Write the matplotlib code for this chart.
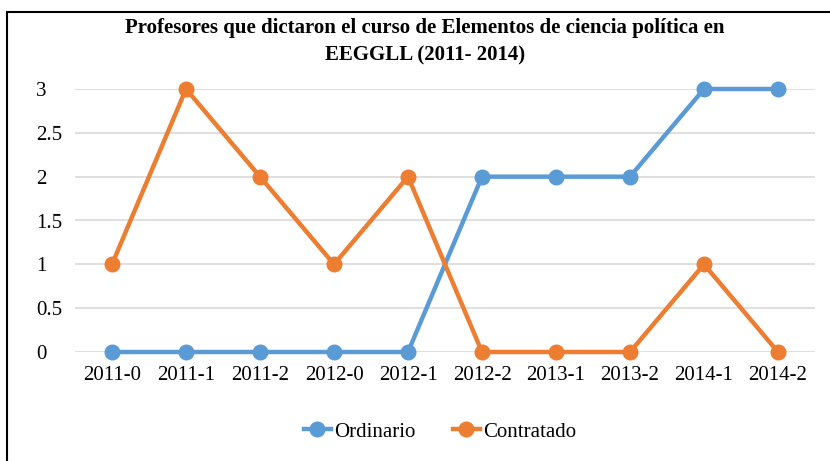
import matplotlib.pyplot as plt
import matplotlib.patches as patches
import numpy as np

plt.rcParams['font.family'] = 'serif'
plt.rcParams['font.serif'] = ['Liberation Serif', 'DejaVu Serif']

periodos = ['2011-0', '2011-1', '2011-2', '2012-0', '2012-1',
            '2012-2', '2013-1', '2013-2', '2014-1', '2014-2']
ordinario = [0, 0, 0, 0, 0, 2, 2, 2, 3, 3]
contratado = [1, 3, 2, 1, 2, 0, 0, 0, 1, 0]
y_ticks = [0, 0.5, 1, 1.5, 2, 2.5, 3]
y_labels = ['0', '0.5', '1', '1.5', '2', '2.5', '3']

W, H = 830, 461
fig = plt.figure(figsize=(W / 100, H / 100), dpi=100)
ax = fig.add_axes([75 / W, (H - 352) / H, (815 - 75) / W, (352 - 89) / H])

# outer frame (left and top edges visible)
fig.patches.append(patches.Rectangle((7 / W, -0.1), 1.2, (H - 12) / H + 0.1,
                                     transform=fig.transFigure, fill=False,
                                     edgecolor='black', linewidth=1.5))

x = np.arange(len(periodos))
ax.plot(x, ordinario, color='#5B9BD5', linewidth=3.2, marker='o',
        markersize=10.5, label='Ordinario', clip_on=False, zorder=3)
ax.plot(x, contratado, color='#ED7D31', linewidth=3.2, marker='o',
        markersize=10.5, label='Contratado', clip_on=False, zorder=4)

ax.set_xlim(-0.5, len(periodos) - 0.5)
ax.set_ylim(0, 3)
ax.set_xticks(x)
ax.set_xticklabels(periodos, fontsize=15)
ax.set_yticks(y_ticks)
ax.set_yticklabels(y_labels, fontsize=15)
ax.tick_params(length=0)
ax.tick_params(axis='x', pad=10)
ax.tick_params(axis='y', pad=28)
for lbl in ax.get_yticklabels():
    lbl.set_horizontalalignment('left')
ax.grid(axis='y', color='#D9D9D9', linewidth=1.2)
ax.set_axisbelow(True)
for s in ax.spines.values():
    s.set_visible(False)

fig.text(425 / W, (H - 42) / H,
         'Profesores que dictaron el curso de Elementos de ciencia política en\nEEGGLL (2011- 2014)',
         ha='center', va='center', fontsize=15, fontweight='bold', linespacing=1.5)

fig.legend(loc='center', bbox_to_anchor=(440 / W, (H - 432) / H), ncol=2,
           frameon=False, fontsize=15, handlelength=1.3, columnspacing=1.8,
           handletextpad=0.15)

fig.savefig('out.png', dpi=100)
